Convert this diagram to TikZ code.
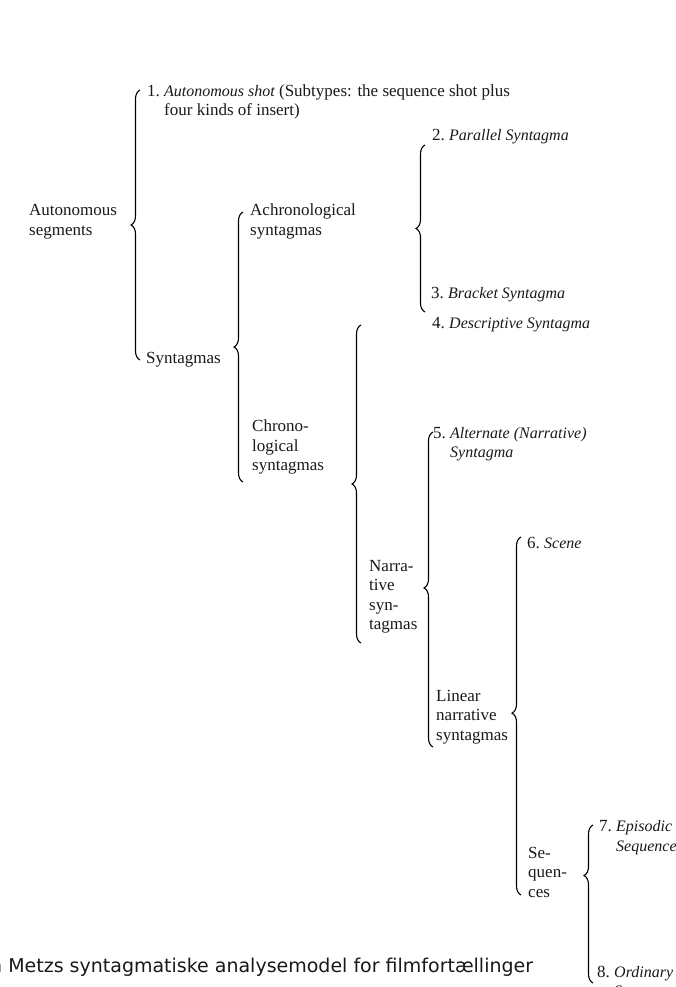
\documentclass[tikz,border=0pt]{standalone}
\usepackage{fontspec}
\setmainfont{Liberation Serif}
\newfontfamily\capfont{DejaVu Sans}
\usetikzlibrary{decorations.pathreplacing}

\newcommand\ttl[1]{{\fontsize{16}{19.5}\selectfont\itshape #1}}

\tikzset{
  brc/.style={decorate, decoration={brace, amplitude=9pt, aspect=#1}, line width=1.1pt},
  brc/.default=0.5,
  lbl/.style={anchor=west, inner sep=0pt, align=left, text=black!90, font=\fontsize{17}{19.5}\selectfont},
}

\begin{document}
\begin{tikzpicture}[x=1pt, y=-1pt]
            \useasboundingbox (0,0) rectangle (676,987);
            % labels
            \node[lbl] (shot) at (147,102) {1.~\ttl{Autonomous shot} (Subtypes: the sequence shot plus\\\phantom{1.~}four kinds of insert)};
            \node[lbl] (autseg) at (29,221.5) {Autonomous\\segments};
            \node[lbl] (achron) at (250,221.5) {Achronological\\syntagmas};
            \node[lbl] (synt) at (146,360) {Syntagmas};
            \node[lbl] (paral) at (432,137) {2.~\ttl{Parallel Syntagma}};
            \node[lbl] (brack) at (431,295) {3.~\ttl{Bracket Syntagma}};
            \node[lbl] (descr) at (432,325) {4.~\ttl{Descriptive Syntagma}};
            \node[lbl] (chron) at (252,447) {Chrono-\\logical\\syntagmas};
            \node[lbl] (alter) at (433,444) {5.~\ttl{Alternate (Narrative)}\\\phantom{5.~}\ttl{Syntagma}};
            \node[lbl] (narr) at (369,597) {Narra-\\tive\\syn-\\tagmas};
            \node[lbl] (scene) at (527,543) {6.~\ttl{Scene}};
            \node[lbl] (linear) at (436,717) {Linear\\narrative\\syntagmas};
            \node[lbl] (episod) at (599,837.5) {7.~\ttl{Episodic}\\\phantom{7.~}\ttl{Sequence}};
            \node[lbl] (seq) at (528,872) {Se-\\quen-\\ces};
            \node[lbl] (ordin) at (597,983) {8.~\ttl{Ordinary}\\\phantom{8.~}\ttl{Sequence}};
            \node[anchor=west, inner sep=0pt, text=black!90, font=\capfont\fontsize{19}{22}\selectfont] (capt) at (-10,967) {n Metzs syntagmatiske analysemodel for filmfortællinger};
            % brace ends
            \coordinate (b1t) at (140,90);  \coordinate (b1b) at (140,360);
            \coordinate (b2t) at (243,212); \coordinate (b2b) at (243,482);
            \coordinate (b3t) at (425,145); \coordinate (b3b) at (425,312);
            \coordinate (b4t) at (361,325); \coordinate (b4b) at (361,643);
            \coordinate (b5t) at (433,432); \coordinate (b5b) at (433,747);
            \coordinate (b6t) at (521,537); \coordinate (b6b) at (521,895);
            \coordinate (b7t) at (593,825); \coordinate (b7b) at (593,983);
            % braces
            \draw[brc] (b1b) -- (b1t);
            \draw[brc] (b2b) -- (b2t);
            \draw[brc] (b3b) -- (b3t);
            \draw[brc] (b4b) -- (b4t);
            \draw[brc=0.505] (b5b) -- (b5t);
            \draw[brc=0.508] (b6b) -- (b6t);
            \draw[brc=0.68] (b7b) -- (b7t);
\end{tikzpicture}
\end{document}
